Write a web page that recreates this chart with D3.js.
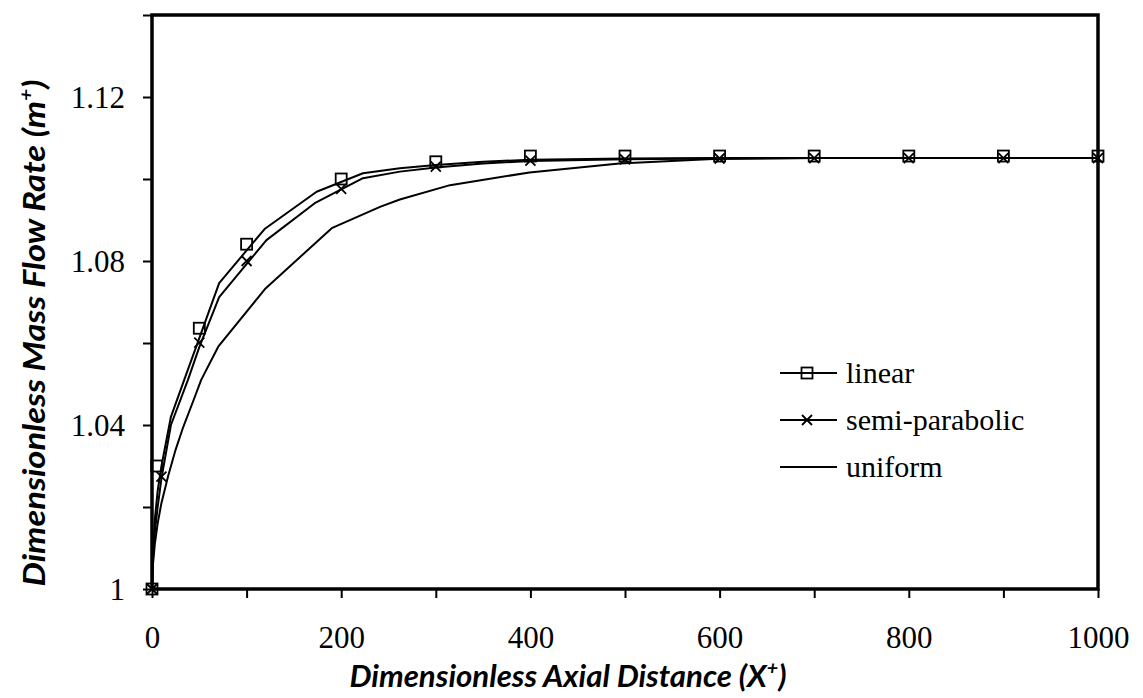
<!DOCTYPE html>
<html>
<head>
<meta charset="utf-8">
<script src="https://cdn.jsdelivr.net/npm/d3@7"></script>
<style>
  body { margin: 0; background: #fff; }
  svg { display: block; }
</style>
</head>
<body>
<svg id="chart" width="1143" height="698"></svg>
<script>
// ---- data -------------------------------------------------------------
const xTicks = [0, 100, 200, 300, 400, 500, 600, 700, 800, 900, 1000];
const xTickLabels = ["0", "", "200", "", "400", "", "600", "", "800", "", "1000"];
const yTicks = [1.00, 1.02, 1.04, 1.06, 1.08, 1.10, 1.12, 1.14];
const yTickLabels = ["1", "", "1.04", "", "1.08", "", "1.12", ""];

// continuous profiles
const linearX  = [0, 1, 3, 6, 10, 20, 35, 50, 71, 119, 174, 223, 262, 300, 350, 400, 500, 600, 700, 800, 900, 1000];
const linearY  = [1.000, 1.009, 1.017, 1.024, 1.030, 1.042, 1.0516, 1.0612, 1.0746, 1.0878, 1.0969, 1.1014, 1.1026, 1.1034, 1.1042, 1.1047, 1.1050, 1.1051, 1.1051, 1.1051, 1.1051, 1.1051];
const semiX    = [0, 1, 3, 6, 10, 20, 38, 50, 71, 121, 172, 223, 262, 300, 350, 400, 500, 600, 700, 800, 900, 1000];
const semiY    = [1.000, 1.007, 1.014, 1.020, 1.027, 1.040, 1.051, 1.059, 1.0712, 1.0851, 1.0941, 1.1002, 1.1018, 1.1028, 1.1038, 1.1044, 1.1048, 1.1050, 1.1051, 1.1051, 1.1051, 1.1051];
const uniformX = [0, 1, 3, 6, 10, 17, 25, 33, 44, 52, 70, 120, 190, 241, 262, 315, 399, 494, 593, 700, 800, 900, 1000];
const uniformY = [1.000, 1.006, 1.011, 1.016, 1.021, 1.0275, 1.034, 1.0395, 1.0461, 1.051, 1.0591, 1.0733, 1.088, 1.0932, 1.095, 1.0985, 1.1016, 1.1038, 1.1049, 1.1051, 1.1051, 1.1051, 1.1051];

// marked stations
const linearMarkX = [0, 5, 50, 100, 200, 300, 400, 500, 600, 700, 800, 900, 1000];
const linearMarkY = [1.000, 1.030, 1.0636, 1.0841, 1.1000, 1.1042, 1.1056, 1.1056, 1.1056, 1.1056, 1.1056, 1.1056, 1.1056];
const semiMarkX   = [0, 10, 50, 100, 200, 300, 400, 500, 600, 700, 800, 900, 1000];
const semiMarkY   = [1.000, 1.0274, 1.0601, 1.0800, 1.0976, 1.1030, 1.1045, 1.1048, 1.1050, 1.1051, 1.1051, 1.1051, 1.1051];

const legendNames = ["linear", "semi-parabolic", "uniform"];
const legendMarks = ["square", "cross", "none"];

// ---- layout -----------------------------------------------------------
const svg = d3.select("#chart");
const box = { left: 152, right: 1098, top: 15, bottom: 589 };

const x = d3.scaleLinear().domain([0, 1000]).range([box.left, box.right]);
const y = d3.scaleLinear().domain([1.0, 1.14]).range([box.bottom, box.top]);

svg.append("rect").attr("width", 1143).attr("height", 698).attr("fill", "#fff");

// axes
const serif = "'Liberation Serif', 'Times New Roman', Times, serif";
const xAxis = d3.axisBottom(x).tickValues(xTicks)
  .tickFormat((d, i) => xTickLabels[i]).tickSize(9).tickSizeOuter(0).tickPadding(28);
const yAxis = d3.axisLeft(y).tickValues(yTicks)
  .tickFormat((d, i) => yTickLabels[i]).tickSize(9).tickSizeOuter(0).tickPadding(18);

const gx = svg.append("g").attr("transform", `translate(0,${box.bottom})`).call(xAxis);
const gy = svg.append("g").attr("transform", `translate(${box.left},0)`).call(yAxis);
[gx, gy].forEach(g => {
  g.select(".domain").remove();
  g.selectAll(".tick line").attr("stroke", "#000").attr("stroke-width", 2);
  g.selectAll(".tick text").attr("fill", "#000")
    .style("font-family", serif).style("font-size", "31px");
});
gy.selectAll(".tick text").attr("dy", "0.34em");

// series lines
const line = d3.line().x(d => x(d[0])).y(d => y(d[1]));
const zip = (a, b) => a.map((v, i) => [v, b[i]]);
const plot = svg.append("g");
[[linearX, linearY], [semiX, semiY], [uniformX, uniformY]].forEach(([xs, ys]) => {
  plot.append("path").datum(zip(xs, ys))
    .attr("d", line).attr("fill", "none")
    .attr("stroke", "#000").attr("stroke-width", 2)
    .attr("stroke-linejoin", "round");
});

// markers
function square(g, cx, cy) {
  g.append("rect").attr("x", cx - 5.5).attr("y", cy - 5.5)
    .attr("width", 11).attr("height", 11)
    .attr("fill", "none").attr("stroke", "#000").attr("stroke-width", 1.8);
}
function cross(g, cx, cy) {
  const s = 5;
  g.append("path")
    .attr("d", `M${cx - s},${cy - s}L${cx + s},${cy + s}M${cx - s},${cy + s}L${cx + s},${cy - s}`)
    .attr("stroke", "#000").attr("stroke-width", 1.8).attr("fill", "none");
}
const marks = svg.append("g");
zip(linearMarkX, linearMarkY).forEach(d => square(marks, x(d[0]), y(d[1])));
zip(semiMarkX, semiMarkY).forEach(d => cross(marks, x(d[0]), y(d[1])));

// frame
svg.append("rect").attr("x", box.left).attr("y", box.top)
  .attr("width", box.right - box.left).attr("height", box.bottom - box.top)
  .attr("fill", "none").attr("stroke", "#000").attr("stroke-width", 3.5);

// legend
const legend = svg.append("g");
legendNames.forEach((name, i) => {
  const ly = 373 + i * 47;
  legend.append("line").attr("x1", 780).attr("x2", 837).attr("y1", ly).attr("y2", ly)
    .attr("stroke", "#000").attr("stroke-width", 2);
  if (legendMarks[i] === "square") square(legend, 807, ly);
  if (legendMarks[i] === "cross") cross(legend, 807, ly);
  legend.append("text").attr("x", 846).attr("y", ly + 10)
    .style("font-family", serif).style("font-size", "30px").text(name);
});

// axis titles
const sans = "Lato, 'Open Sans', 'Liberation Sans', sans-serif";
const xt = svg.append("text").attr("x", 568).attr("y", 687)
  .attr("text-anchor", "middle")
  .attr("textLength", 437).attr("lengthAdjust", "spacingAndGlyphs")
  .style("font-family", sans).style("font-size", "30px")
  .style("font-weight", "bold").style("font-style", "italic");
xt.append("tspan").text("Dimensionless Axial Distance (X");
xt.append("tspan").attr("dy", -12).style("font-size", "19px").text("+");
xt.append("tspan").attr("dy", 12).text(")");

const yt = svg.append("text")
  .attr("transform", "translate(45,333) rotate(-90)")
  .attr("text-anchor", "middle")
  .attr("textLength", 507).attr("lengthAdjust", "spacingAndGlyphs")
  .style("font-family", sans).style("font-size", "31px")
  .style("font-weight", "bold").style("font-style", "italic");
yt.append("tspan").text("Dimensionless Mass Flow Rate (m");
yt.append("tspan").attr("dy", -12).style("font-size", "19px").text("+");
yt.append("tspan").attr("dy", 12).text(")");
</script>
</body>
</html>
